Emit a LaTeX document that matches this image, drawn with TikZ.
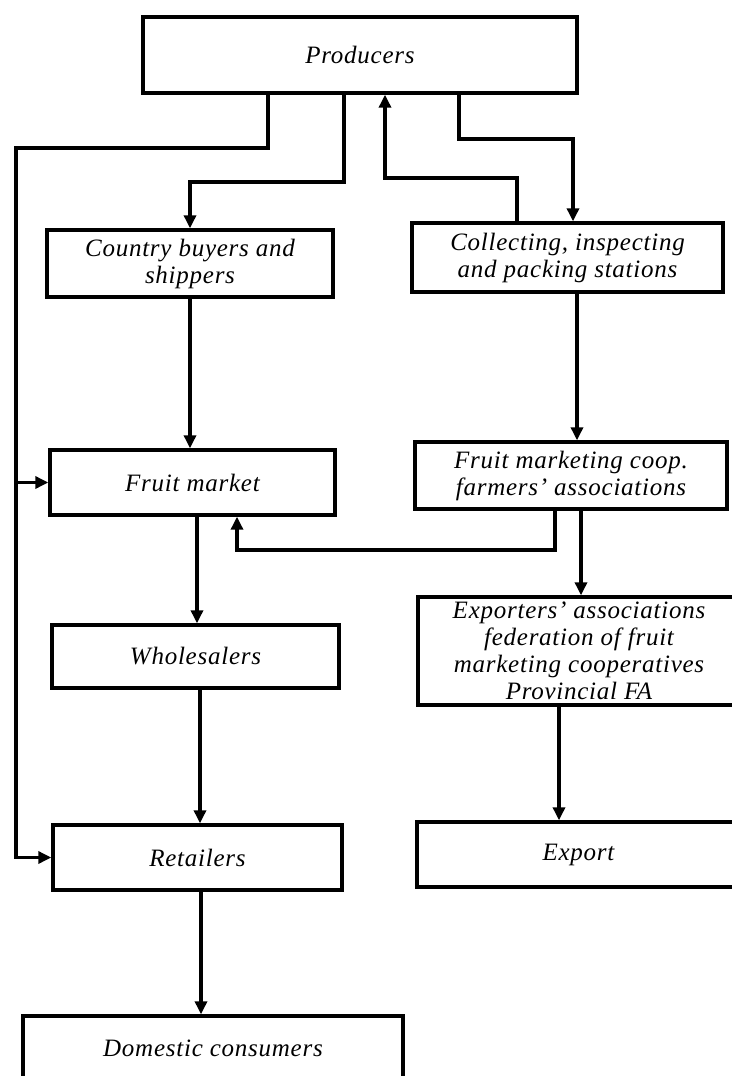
\documentclass[tikz,border=0pt]{standalone}
\usepackage{fontspec}
\setmainfont{Liberation Serif}[LetterSpace=3]
\usetikzlibrary{arrows.meta}

\begin{document}
\begin{tikzpicture}[
  x=1pt, y=-1pt,
  box/.style={draw, line width=3.4pt, inner sep=0pt, align=center,
    font=\itshape\fontsize{25}{27}\selectfont},
  conn/.style={line width=3.4pt},
  arr/.style={conn, -{Triangle[length=13pt,width=12pt]}}
]
\useasboundingbox (0,0) rectangle (731,1076);

% boxes
\node[box, minimum width=434pt, minimum height=76pt] (prod) at (360,55) {Producers};
\node[box, minimum width=286pt, minimum height=67pt] (cbs) at (190,263.5) {Country buyers and\\shippers};
\node[box, minimum width=311pt, minimum height=69pt] (cips) at (567.5,257.5) {Collecting, inspecting\\and packing stations};
\node[box, minimum width=285pt, minimum height=65pt] (fm) at (192.5,482.5) {Fruit market};
\node[box, minimum width=312pt, minimum height=67pt] (fmc) at (571,475.5) {Fruit marketing coop.\\farmers’ associations};
\node[box, minimum width=287pt, minimum height=63pt] (whole) at (195.5,656.5) {Wholesalers};
\node[box, minimum width=322pt, minimum height=108pt] (expa) at (579,651) {Exporters’ associations\\federation of fruit\\marketing cooperatives\\Provincial FA};
\node[box, minimum width=289pt, minimum height=65pt] (retail) at (197.5,857.5) {Retailers};
\node[box, minimum width=323pt, minimum height=65pt] (export) at (578.5,854.5) {Export};
\node[box, minimum width=380pt, minimum height=64pt] (dom) at (213,1048) {Domestic consumers};

% bend points
\coordinate (trunk) at (16,148);
\coordinate (b2) at (344,182);
\coordinate (b3) at (517,178);
\coordinate (b4) at (459,139);
\coordinate (b5) at (555,550);

% direct channel from producers to fruit market and retailers
\draw[arr] (prod.south -| 268,0) |- (trunk) |- (retail.west);
\draw[arr] (trunk |- fm.west) -- (fm.west);

% producers <-> country buyers and stations
\draw[arr] (prod.south -| b2) -- (b2) -| (cbs.north);
\draw[arr] (cips.north -| b3) -- (b3) -| (prod.south -| 385,0);
\draw[arr] (prod.south -| b4) -- (b4) -| (cips.north -| 573,0);

% domestic chain
\draw[arr] (cbs.south) -- (cbs.south |- fm.north);
\draw[arr] (fm.south -| 197,0) -- (whole.north -| 197,0);
\draw[arr] (whole.south -| 200,0) -- (retail.north -| 200,0);
\draw[arr] (retail.south -| 201,0) -- (dom.north -| 201,0);

% cooperative chain
\draw[arr] (cips.south -| 577,0) -- (fmc.north -| 577,0);
\draw[arr] (fmc.south -| b5) -- (b5) -| (fm.south -| 237,0);
\draw[arr] (fmc.south -| 581,0) -- (expa.north -| 581,0);
\draw[arr] (expa.south -| 559,0) -- (export.north -| 559,0);
\end{tikzpicture}
\end{document}
